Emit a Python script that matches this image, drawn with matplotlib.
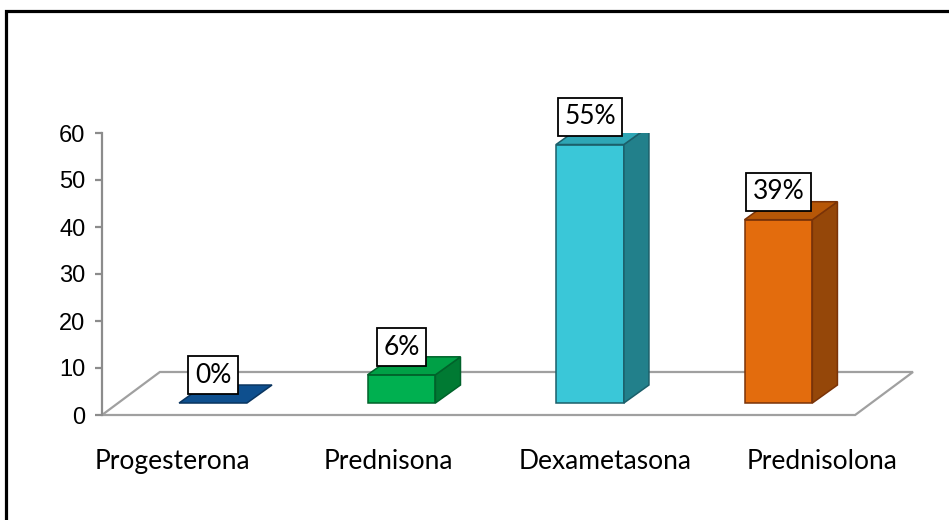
import matplotlib
matplotlib.use("Agg")
import matplotlib.pyplot as plt
from matplotlib.patches import Polygon, Rectangle

# data
farmacos = ["Progesterona", "Prednisona", "Dexametasona", "Prednisolona"]
porcentaje = [0, 6, 55, 39]
etiquetas = ["0%", "6%", "55%", "39%"]

# colours per bar: front, side, top, edge
frente = ["#0E4F8E", "#00B050", "#3AC7D8", "#E36C0D"]
lado = ["#0A3D6E", "#007A33", "#22808B", "#954709"]
tapa = ["#0F5596", "#00A046", "#2EA6B5", "#B75707"]
borde = ["#0A3560", "#00622A", "#1B5F6A", "#7A3308"]

plt.rcParams["font.family"] = "Liberation Sans"

W, H = 949, 520
fig = plt.figure(figsize=(W / 100, H / 100), dpi=100)
ax = fig.add_axes([102 / W, 105 / H, (W - 102) / W, 282 / H])
ax.set_ylim(0, 60)
ax.set_xlim(-0.589, 3.905)

for s in ["top", "right", "bottom"]:
    ax.spines[s].set_visible(False)
ax.spines["left"].set_color("#8C8C8C")
ax.spines["left"].set_linewidth(1.6)
ax.set_xticks([])
ax.set_yticks(range(0, 61, 10))
ax.tick_params(axis="y", direction="out", length=5, width=1.6, color="#8C8C8C",
               pad=7, labelsize=17)

# 3d look: floor and bar depth offsets (x in category units, y in value units)
piso_dx, piso_dy = 0.307, 9.15
ancho = 0.36
bdx, bdy = 0.133, 3.83
base = 2.55

piso = Polygon([(-0.589, 0), (-0.589 + piso_dx, piso_dy), (3.714, piso_dy),
                (3.714 - piso_dx, 0)], closed=True, facecolor="white",
               edgecolor="#A0A0A0", linewidth=1.6, zorder=1, clip_on=False)
ax.add_patch(piso)

for i, v in enumerate(porcentaje):
    x0, x1 = i - ancho / 2, i + ancho / 2
    y0, y1 = base, base + v
    kw = dict(closed=True, edgecolor=borde[i], linewidth=1.1, zorder=3,
              joinstyle="miter")
    if v > 0:
        ax.add_patch(Polygon([(x0, y0), (x1, y0), (x1, y1), (x0, y1)],
                             facecolor=frente[i], **kw))
        ax.add_patch(Polygon([(x1, y0), (x1 + bdx, y0 + bdy), (x1 + bdx, y1 + bdy),
                              (x1, y1)], facecolor=lado[i], **kw))
    ax.add_patch(Polygon([(x0, y1), (x1, y1), (x1 + bdx, y1 + bdy),
                          (x0 + bdx, y1 + bdy)],
                         facecolor=tapa[i] if v > 0 else frente[i], **kw))
    ax.text(i, y1 + 5.9, etiquetas[i], ha="center", va="center",
            fontsize=19, family="Lato", zorder=5,
            bbox=dict(boxstyle="square,pad=0.25", facecolor="white",
                      edgecolor="black", linewidth=1.3))
    ax.text(i * 1.148 - 0.215, -11.5, farmacos[i], ha="center", va="baseline",
            fontsize=19, family="Lato", clip_on=False)

# outer frame
fig.patches.append(Rectangle((5.5 / W, -0.1), 1.2, 1 - 10.5 / H + 0.1,
                             transform=fig.transFigure, fill=False,
                             edgecolor="black", linewidth=2.3))

fig.savefig("out.png", dpi=100)
